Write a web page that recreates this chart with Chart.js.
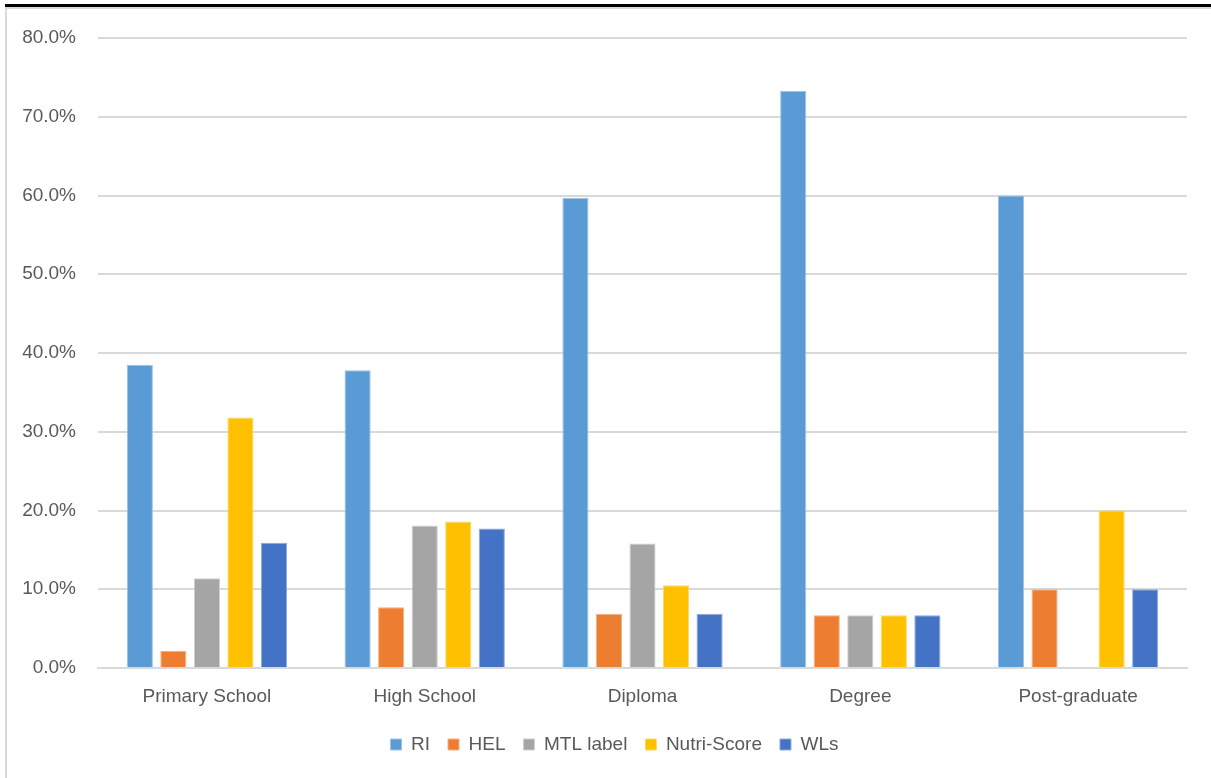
<!DOCTYPE html>
<html>
<head>
<meta charset="utf-8">
<script src="https://cdn.jsdelivr.net/npm/chart.js@4.4.1/dist/chart.umd.min.js"></script>
<style>
    html, body { margin: 0; padding: 0; background: #fff; }
    #wrap { position: relative; width: 1211px; height: 778px; overflow: hidden; }
    #topLine { position: absolute; left: 5px; top: 4px; width: 1206px; height: 3px; background: #000; }
    #topGray { position: absolute; left: 5px; top: 7px; width: 1206px; height: 2px; background: #d9d9d9; }
    #leftGray { position: absolute; left: 5px; top: 7px; width: 2px; height: 771px; background: #d9d9d9; }
    #chart { position: absolute; left: 0; top: 0; }
</style>
</head>
<body>
<div id="wrap">
    <div id="topLine"></div>
    <div id="topGray"></div>
    <div id="leftGray"></div>
    <canvas id="chart" width="1211" height="778"></canvas>
</div>
<script>
// Дані графіка
const categories = ['Primary School', 'High School', 'Diploma', 'Degree', 'Post-graduate'];
const seriesNames = ['RI', 'HEL', 'MTL label', 'Nutri-Score', 'WLs'];
const riValues = [38.5, 37.8, 59.7, 73.3, 60.0];
const helValues = [2.2, 7.7, 6.9, 6.7, 10.0];
const mtlValues = [11.4, 18.1, 15.8, 6.7, 0];
const nutriValues = [31.8, 18.6, 10.5, 6.7, 20.0];
const wlsValues = [15.9, 17.7, 6.9, 6.7, 10.0];
const yTicks = [0, 10, 20, 30, 40, 50, 60, 70, 80];

const fillColors = ['#5B9BD5', '#ED7D31', '#A5A5A5', '#FFC000', '#4472C4'];
const edgeColors = ['#9DC3E6', '#F4B183', '#CFCFCF', '#FFD966', '#8FAADC'];
const textColor = '#595959';
const gridColor = '#D9D9D9';
const fontFamily = "'Liberation Sans', Arial, sans-serif";

const allValues = [riValues, helValues, mtlValues, nutriValues, wlsValues];

const datasets = seriesNames.map((name, i) => ({
    label: name,
    data: allValues[i],
    backgroundColor: fillColors[i],
    borderColor: edgeColors[i],
    borderWidth: 1,
    categoryPercentage: 0.77,
    barPercentage: 0.78
}));

// Легенда по центру всього полотна, а не області графіка
const legendShift = {
    id: 'legendShift',
    afterLayout(chart) {
        chart.legend.left += 21;
        chart.legend.right += 21;
    }
};

new Chart(document.getElementById('chart'), {
    type: 'bar',
    data: {
        labels: categories,
        datasets: datasets
    },
    plugins: [legendShift],
    options: {
        responsive: false,
        animation: false,
        layout: {
            padding: { top: 38, right: 24, bottom: 14, left: 0 }
        },
        plugins: {
            legend: {
                position: 'bottom',
                labels: {
                    color: textColor,
                    font: { family: fontFamily, size: 19 },
                    boxWidth: 11,
                    boxHeight: 11,
                    padding: 18
                }
            },
            tooltip: { enabled: false }
        },
        scales: {
            x: {
                grid: { display: false, drawTicks: false },
                border: { color: gridColor, width: 2 },
                ticks: {
                    color: textColor,
                    font: { family: fontFamily, size: 19 },
                    padding: 17,
                    maxRotation: 0
                },
                afterFit: (scale) => { scale.height = 49; }
            },
            y: {
                min: 0,
                max: 80,
                afterBuildTicks: (scale) => {
                    scale.ticks = yTicks.map(v => ({ value: v }));
                },
                grid: { color: gridColor, lineWidth: 2, drawTicks: false },
                border: { display: false },
                ticks: {
                    color: textColor,
                    font: { family: fontFamily, size: 19 },
                    padding: 22,
                    callback: (v) => v.toFixed(1) + '%'
                },
                afterFit: (scale) => { scale.width = 98; }
            }
        }
    }
});
</script>
</body>
</html>
